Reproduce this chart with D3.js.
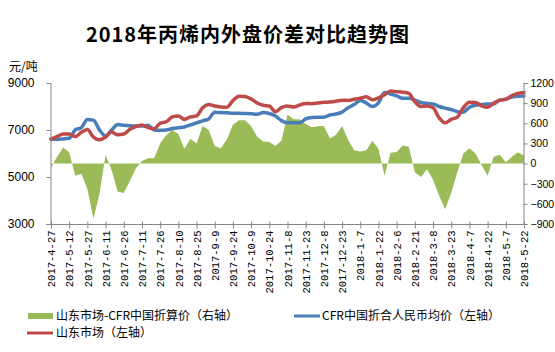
<!DOCTYPE html>
<html><head><meta charset="utf-8">
<script src="https://cdnjs.cloudflare.com/ajax/libs/d3/7.8.5/d3.min.js"></script>
<style>
html,body{margin:0;padding:0;background:#fff;}
svg{display:block;}
</style></head>
<body>
<svg id="chart" width="555" height="352"></svg>
<script>
const dates = ["2017-04-27","2017-05-02","2017-05-07","2017-05-12","2017-05-17","2017-05-22","2017-05-27","2017-06-01","2017-06-06","2017-06-11",
"2017-06-16","2017-06-21","2017-06-26","2017-07-01","2017-07-06","2017-07-11","2017-07-16","2017-07-21","2017-07-26","2017-07-31",
"2017-08-05","2017-08-10","2017-08-15","2017-08-20","2017-08-25","2017-08-30","2017-09-04","2017-09-09","2017-09-14","2017-09-19",
"2017-09-24","2017-09-29","2017-10-04","2017-10-09","2017-10-14","2017-10-19","2017-10-24","2017-10-29","2017-11-03","2017-11-08",
"2017-11-13","2017-11-18","2017-11-23","2017-11-28","2017-12-03","2017-12-08","2017-12-13","2017-12-18","2017-12-23","2017-12-28",
"2018-01-02","2018-01-07","2018-01-12","2018-01-17","2018-01-22","2018-01-27","2018-02-01","2018-02-06","2018-02-11","2018-02-16",
"2018-02-21","2018-02-26","2018-03-03","2018-03-08","2018-03-13","2018-03-18","2018-03-23","2018-03-28","2018-04-02","2018-04-07",
"2018-04-12","2018-04-17","2018-04-22","2018-04-27","2018-05-02","2018-05-07","2018-05-12","2018-05-17","2018-05-22"];

// 山东市场-CFR中国折算价（右轴）
const spread = [-60,100,238,170,-180,-150,-380,-820,-450,130,
-100,-420,-440,-260,-70,40,80,80,300,420,
500,440,220,370,300,560,500,260,230,360,
580,645,645,560,400,330,322,260,340,730,
660,660,590,540,555,560,372,430,560,350,
200,180,200,340,220,-180,160,173,270,250,
-130,-200,-85,-240,-480,-680,-440,-130,150,230,
150,-20,-180,100,130,20,100,170,120];

// CFR中国折合人民币均价（左轴）
const cfr = [6620,6600,6620,6650,7000,7100,7450,7420,7000,6750,
7000,7230,7200,7180,7170,7170,7200,7000,6990,7000,
7060,7100,7130,7215,7300,7390,7470,7760,7740,7730,
7710,7710,7700,7690,7670,7740,7700,7600,7400,7310,
7310,7310,7470,7530,7540,7540,7640,7680,7760,7950,
8080,8260,8150,8000,8150,8600,8530,8450,8350,8350,
8270,8170,8130,8110,8000,7930,7870,7780,7760,7970,
8050,8090,8107,8110,8270,8310,8400,8440,8450];

// 山东市场（左轴）
const shandong = [6610,6720,6830,6830,6720,6900,7020,6700,6580,6700,
6910,6800,6830,7030,7150,7210,7100,7050,7285,7350,
7560,7600,7450,7560,7600,7950,8080,8020,7980,7970,
8250,8440,8430,8320,8150,8050,8020,7780,7950,8020,
7980,8060,8130,8120,8150,8180,8190,8220,8270,8260,
8310,8350,8410,8290,8370,8500,8660,8630,8610,8560,
8200,8000,8020,7950,7520,7310,7450,7550,7950,8180,
8170,8030,7970,8140,8270,8310,8460,8560,8600];

const xTickLabels = ["2017-4-27","2017-5-12","2017-5-27","2017-6-11","2017-6-26","2017-7-11","2017-7-26","2017-8-10","2017-8-25",
"2017-9-9","2017-9-24","2017-10-9","2017-10-24","2017-11-8","2017-11-23","2017-12-8","2017-12-23","2018-1-7","2018-1-22",
"2018-2-6","2018-2-21","2018-3-8","2018-3-23","2018-4-7","2018-4-22","2018-5-7","2018-5-22"];
const leftTicks = [3000,5000,7000,9000];
const rightTicks = [-900,-600,-300,0,300,600,900,1200];

const title = "2018年丙烯内外盘价差对比趋势图";
const unit = "元/吨";
const seriesNames = ["山东市场-CFR中国折算价（右轴）","CFR中国折合人民币均价（左轴）","山东市场（左轴）"];

const GREEN = "#9BBB59", BLUE = "#4A7EBB", RED = "#BE4B48", AXIS = "#868686";

const parse = d3.timeParse("%Y-%m-%d");
const parseTick = s => { const p = s.split("-").map(Number); return new Date(p[0], p[1]-1, p[2]); };
const D = dates.map(parse);

const svg = d3.select("#chart");
const L = 50, R = 523, T = 83, B = 224;

const x = d3.scaleTime().domain([D[0], D[D.length-1]]).range([L+1, R+1]);
const yL = d3.scaleLinear().domain([3000, 9000]).range([B, T]);
const yR = d3.scaleLinear().domain([-900, 1200]).range([B, T]);

// title
svg.append("text").attr("x", 248).attr("y", 42).attr("text-anchor", "middle")
  .style("font-family", "'Noto Sans CJK SC'").style("font-weight", "bold").style("font-size", "20px")
  .style("letter-spacing", "1px").attr("fill", "#000").text(title);

svg.append("text").attr("x", 9).attr("y", 71)
  .style("font-family", "'Noto Sans CJK SC'").style("font-size", "12px").attr("fill", "#000").text(unit);

// area
const area = d3.area().x((d,i) => x(D[i])).y0(yR(0)).y1(d => yR(d));
svg.append("path").datum(spread).attr("d", area).attr("fill", GREEN);

const lineGen = scale => d3.line().x((d,i) => x(D[i])).y(d => scale(d)).curve(d3.curveMonotoneX);
svg.append("path").datum(cfr).attr("d", lineGen(yL)).attr("fill", "none").attr("stroke", BLUE)
  .attr("stroke-width", 3.5).attr("stroke-linejoin", "round").attr("stroke-linecap", "round");
svg.append("path").datum(shandong).attr("d", lineGen(yL)).attr("fill", "none").attr("stroke", RED)
  .attr("stroke-width", 3.5).attr("stroke-linejoin", "round").attr("stroke-linecap", "round");

// axes
const gL = svg.append("g").attr("transform", `translate(${L+0.5},0)`)
  .call(d3.axisLeft(yL).tickValues(leftTicks).tickSize(4).tickPadding(12).tickFormat(d3.format("d")));
const gR = svg.append("g").attr("transform", `translate(${R+0.5},0)`)
  .call(d3.axisRight(yR).tickValues(rightTicks).tickSize(4).tickPadding(3).tickFormat(d3.format("d")));
const tickDates = xTickLabels.map(parseTick);
const gB = svg.append("g").attr("transform", `translate(0,${B+0.5})`)
  .call(d3.axisBottom(x).tickValues(tickDates).tickSize(4).tickFormat((d,i) => xTickLabels[i]));
gB.select(".domain").attr("d", `M${L+0.5},0H${R+0.5}`);
gB.selectAll(".tick line").attr("y1", -3).attr("y2", 4);
gB.selectAll(".tick text").attr("transform", "rotate(-90)").attr("x", -6).attr("y", 0).attr("dy", "0.35em")
  .style("text-anchor", "end").style("font-family", "'Liberation Mono'").style("font-size", "10.5px");
gL.selectAll(".tick text").style("font-family", "'Liberation Sans', Arial").style("font-size", "12px");
gR.selectAll(".tick text").style("font-family", "'Liberation Sans', Arial").style("font-size", "10.5px");
gL.selectAll(".tick").filter(d => d === 3000).select("line").attr("x2", 4).attr("x1", -4);
[gL, gR, gB].forEach(g => {
  g.selectAll(".domain").attr("stroke", AXIS);
  g.selectAll(".tick line").attr("stroke", AXIS);
  g.selectAll(".tick text").attr("fill", "#000");
});

// legend
const lg = svg.append("g").style("font-family", "'Noto Sans CJK SC'").style("font-size", "12px");
lg.append("rect").attr("x", 28).attr("y", 313).attr("width", 25).attr("height", 6).attr("fill", GREEN);
lg.append("text").attr("x", 56).attr("y", 320).text(seriesNames[0]);
lg.append("line").attr("x1", 294).attr("x2", 320).attr("y1", 316).attr("y2", 316).attr("stroke", BLUE).attr("stroke-width", 3);
lg.append("text").attr("x", 322).attr("y", 320).text(seriesNames[1]);
lg.append("line").attr("x1", 27).attr("x2", 53).attr("y1", 333).attr("y2", 333).attr("stroke", RED).attr("stroke-width", 3);
lg.append("text").attr("x", 56).attr("y", 337).text(seriesNames[2]);
</script>
</body></html>
